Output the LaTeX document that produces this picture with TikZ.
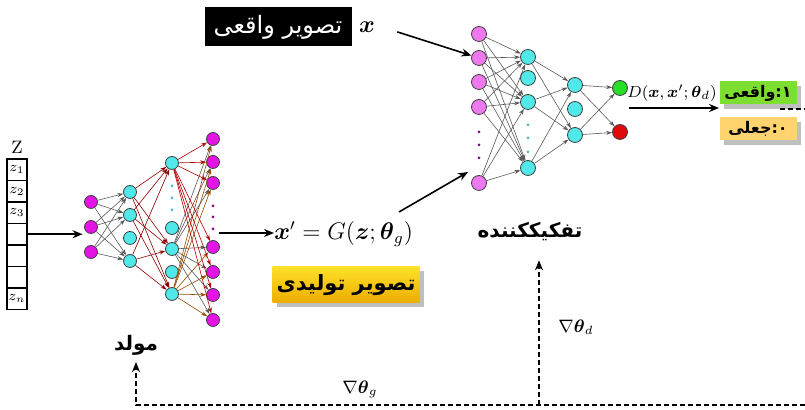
\documentclass[tikz,border=0pt]{standalone}
\usepackage{amsmath,amssymb}
\usepackage[no-math]{fontspec}
\usepackage{tikz}
\usetikzlibrary{positioning, arrows.meta, shadows}
\TeXXeTstate=1
\newfontfamily\fafont[Script=Arabic]{DejaVu Sans}
\definecolor{neuronpink}{RGB}{228,20,228}
\definecolor{neuronviolet}{RGB}{238,120,238}
\definecolor{neuroncyan}{RGB}{80,232,232}
\definecolor{outgreen}{RGB}{40,220,40}
\definecolor{outred}{RGB}{225,10,10}
\definecolor{taggreen}{RGB}{125,222,50}
\definecolor{tagorange}{RGB}{255,212,110}
\definecolor{goldtop}{RGB}{255,224,40}
\definecolor{goldbot}{RGB}{236,172,0}

\begin{document}
\begin{tikzpicture}[
  x=0.5pt, y=-0.5pt,
  neuron/.style={circle, draw=black!75, line width=0.4pt, minimum size=6.5pt, inner sep=0pt},
  gpink/.style={neuron, fill=neuronpink},
  gcyan/.style={neuron, fill=neuroncyan},
  dpink/.style={neuron, minimum size=7.5pt, fill=neuronviolet},
  dcyan/.style={neuron, minimum size=7.5pt, fill=neuroncyan},
  dots/.style={circle, fill=#1, minimum size=1.5pt, inner sep=0pt},
  link/.style={-{Stealth[length=3pt,width=2pt]}, line width=0.3pt, draw=black!65},
  wire/.style={link, draw=red!55!black},
  cell/.style={draw, line width=0.6pt, minimum width=10pt, minimum height=10.75pt,
               inner sep=0pt, font=\scriptsize},
  arrow/.style={-{Stealth[length=5pt,width=4pt]}, line width=0.8pt},
  grad/.style={line width=1pt, dash pattern=on 2.5pt off 1.5pt},
  gradarrow/.style={grad, -{Stealth[length=5pt,width=4pt]}},
  fatext/.style={font=\fontsize{10}{12}\selectfont\fafont\bfseries},
  tag/.style={minimum width=38.5pt, minimum height=11.5pt, inner sep=0pt, drop shadow,
              font=\fontsize{8}{10}\selectfont\fafont\bfseries},
]
\useasboundingbox (0,0) rectangle (805,410);

\node (zlabel) at (17,147) {\small Z};
\foreach \t [count=\i] in {$z_1$,$z_2$,$z_3$,{},{},{},$z_n$}
  \node[cell] (z\i) at (17,{159+21.5*\i-10.75}) {\t};

\foreach \y [count=\i] in {202,227,252} \node[gpink] (ga\i) at (91,\y) {};
\foreach \y [count=\i] in {192,215,238,261} \node[gcyan] (gb\i) at (130,\y) {};
\foreach \y [count=\i] in {163,228,249,272,294} \node[gcyan] (gc\i) at (172,\y) {};
\foreach \y [count=\i] in {139,162,183,247,272,295,320} \node[gpink] (gd\i) at (213,\y) {};
\foreach \y in {186,198,210} \node[dots=neuroncyan!80!black] at (172,\y) {};
\foreach \y in {206,217,229} \node[dots=violet] at (213,\y) {};

\foreach \i in {1,2,3} \foreach \j in {1,2,4} \draw[link] (ga\i) -- (gb\j);
\foreach \i in {1,2,4} \foreach \j in {1,3,5} \draw[wire] (gb\i) -- (gc\j);
\foreach \j in {1,...,7} {
  \draw[wire, draw=red!70!black] (gc1) -- (gd\j);
  \draw[link] (gc3) -- (gd\j);
  \draw[wire, draw=orange!60!black] (gc5) -- (gd\j);
}

\foreach \y [count=\i] in {34,58,82,107,183} \node[dpink] (da\i) at (479,\y) {};
\foreach \y [count=\i] in {57,78,102,168} \node[dcyan] (db\i) at (528,\y) {};
\foreach \y [count=\i] in {85,109,135} \node[dcyan] (dc\i) at (575,\y) {};
\node[neuron, minimum size=7.5pt, fill=outgreen] (dd1) at (620,88) {};
\node[neuron, minimum size=7.5pt, fill=outred] (dd2) at (620,132) {};
\foreach \y in {132,145,158} \node[dots=violet] at (479,\y) {};
\foreach \y in {125,138,152} \node[dots=neuroncyan!80!black] at (528,\y) {};

\foreach \i in {1,...,5} \foreach \j in {1,3,4} \draw[link] (da\i) -- (db\j);
\foreach \i in {1,3,4} \foreach \j in {1,3} \draw[link] (db\i) -- (dc\j);
\foreach \i in {1,3} \foreach \j in {1,2} \draw[link] (dc\i) -- (dd\j);

\node[fill=black, text=white, minimum width=73.5pt, minimum height=19.5pt,
      font=\fontsize{12}{14}\selectfont\fafont] (realbox) at (278,27) {\beginR تصویر واقعی\endR};
\node (xreal) at (367,27) {\large $\boldsymbol{x}$};
\node[anchor=west, inner sep=0pt] (xfake) at (274,234)
  {\large $\boldsymbol{x}' = G(\boldsymbol{z};\boldsymbol{\theta}_g)$};
\node[fatext, font=\fontsize{10.5}{12}\selectfont\fafont\bfseries, minimum width=73.5pt,
      minimum height=18pt, inner xsep=1pt, drop shadow, top color=goldtop, bottom color=goldbot]
  (fakebox) at (346,285) {\beginR تصویر تولیدی\endR};
\node[fatext] (genlabel) at (136,345) {\beginR مولد\endR};
\node[fatext] (dislabel) at (530,232) {\beginR تفکیککننده\endR};
\node (dlabel) at (672,93) {\footnotesize $D(\boldsymbol{x},\boldsymbol{x}';\boldsymbol{\theta}_d)$};
\node[tag, fill=taggreen] (real) at (758,93) {\beginR ۱:واقعی\endR};
\node[tag, fill=tagorange] (fake) at (758,129) {\beginR ۰:جعلی\endR};
\node (gradd) at (576,327) {\small $\nabla\boldsymbol{\theta}_d$};
\node (gradg) at (360,389) {\small $\nabla\boldsymbol{\theta}_g$};

\coordinate (gout) at (219,233);
\coordinate (ftail) at (399,212);
\coordinate (fhead) at (468,172);
\coordinate (dtail) at (629,108);
\coordinate (loopA) at (780,109);
\coordinate (edgeR) at (805,109);
\coordinate (edgeB) at (805,405);
\coordinate (footG) at (136,405);
\coordinate (footD) at (539,405);

\draw[arrow] (z4.east) -- ++(55,0);
\draw[arrow] (gout) -- (gout -| xfake.west);
\draw[arrow, shorten <=8pt] (xreal.east) -- (da2);
\draw[arrow] (ftail) -- (fhead);
\draw[arrow] (dtail) -- (dtail -| real.west);
\draw[grad] (loopA) -- (edgeR);
\draw[gradarrow] (edgeB) -- (footG) -- (genlabel.south -| footG);
\draw[gradarrow, shorten >=6pt] (footD) -- (footD |- dislabel.south);
\end{tikzpicture}
\end{document}
